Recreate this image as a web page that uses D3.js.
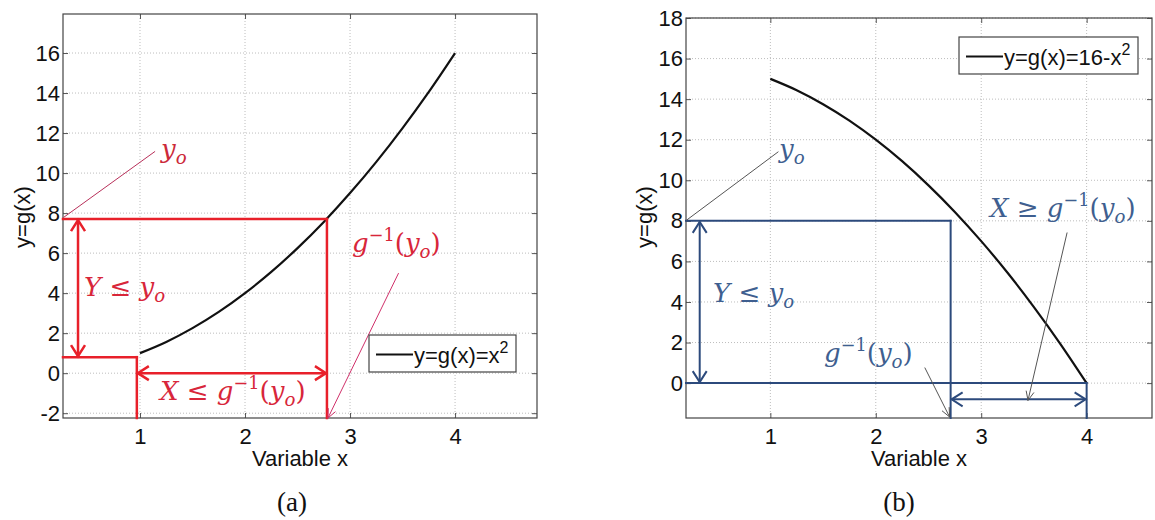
<!DOCTYPE html>
<html><head><meta charset="utf-8">
<script src="https://cdn.jsdelivr.net/npm/d3@7"></script>
<style>body{margin:0;background:#fff}svg{display:block}</style>
</head><body>
<svg id="chart" width="1155" height="520"></svg>
<script>
// ---------- DATA ----------
const xTicks = [1, 2, 3, 4];
const yTicksA = [-2, 0, 2, 4, 6, 8, 10, 12, 14, 16];
const yTicksB = [0, 2, 4, 6, 8, 10, 12, 14, 16, 18];
const curveX = [1, 1.25, 1.5, 1.75, 2, 2.25, 2.5, 2.75, 3, 3.25, 3.5, 3.75, 4];
const curveA = [1, 1.56, 2.25, 3.06, 4, 5.06, 6.25, 7.56, 9, 10.56, 12.25, 14.06, 16];
const curveB = [15, 14.44, 13.75, 12.94, 12, 10.94, 9.75, 8.44, 7, 5.44, 3.75, 1.94, 0];
const legendA = "y=g(x)=x";
const legendB = "y=g(x)=16-x";
const xLabel = "Variable x";
const yLabel = "y=g(x)";
// panel (a) construction values
const aYo = 7.7, aXo = 2.78, aStepY = 0.8, aStepX = 0.97, aArrowX = 0.41, aArrowY = 0;
// panel (b) construction values
const bYo = 8, bXo = 2.71, bEndX = 4, bArrowX = 0.33, bArrowY = -0.8;

const svg = d3.select("#chart");
const SANS = "'Liberation Sans', Arial, sans-serif";
const SERIF = "'DejaVu Serif', serif";

function panel(opt) {
  const x = d3.scaleLinear().domain(opt.xDom).range(opt.xRange);
  const y = d3.scaleLinear().domain(opt.yDom).range(opt.yRange);
  const g = svg.append("g");
  const [x0, x1] = opt.xRange, [y0, y1] = opt.yRange; // y0 bottom, y1 top
  // grid
  g.append("g").selectAll("line").data(opt.xTicks).join("line")
    .attr("x1", d => x(d)).attr("x2", d => x(d)).attr("y1", y0).attr("y2", y1)
    .attr("stroke", "#bdbdbd").attr("stroke-width", 1).attr("stroke-dasharray", "1,2");
  g.append("g").selectAll("line").data(opt.yTicks).join("line")
    .attr("y1", d => y(d)).attr("y2", d => y(d)).attr("x1", x0).attr("x2", x1)
    .attr("stroke", "#bdbdbd").attr("stroke-width", 1).attr("stroke-dasharray", "1,2");
  // axes
  const fmt = d => String(d);
  const ax = d3.axisBottom(x).tickValues(opt.xTicks).tickSize(-5).tickPadding(10).tickFormat(fmt);
  const ay = d3.axisLeft(y).tickValues(opt.yTicks).tickSize(-5).tickPadding(3).tickFormat(fmt);
  const axT = d3.axisTop(x).tickValues(opt.xTicks).tickSize(-5).tickFormat("");
  const ayR = d3.axisRight(y).tickValues(opt.yTicks).tickSize(-5).tickFormat("");
  const style = sel => {
    sel.attr("font-size", null).attr("font-family", null);
    sel.select(".domain").remove();
    sel.selectAll(".tick line").attr("stroke", "#555");
    sel.selectAll(".tick text").style("font-family", SANS).style("font-size", "22px").attr("fill", "#111");
  };
  g.append("g").attr("transform", `translate(0,${y0})`).call(ax).call(style);
  g.append("g").attr("transform", `translate(${x0},0)`).call(ay).call(style);
  g.append("g").attr("transform", `translate(0,${y1})`).call(axT).call(style);
  g.append("g").attr("transform", `translate(${x1},0)`).call(ayR).call(style);
  g.append("rect").attr("x", x0).attr("y", y1).attr("width", x1 - x0).attr("height", y0 - y1)
    .attr("fill", "none").attr("stroke", "#444").attr("stroke-width", 1.2);
  // labels
  g.append("text").attr("x", (x0 + x1) / 2 + opt.xLabelDx).attr("y", 466).attr("text-anchor", "middle")
    .attr("font-family", SANS).attr("font-size", 22).attr("fill", "#111").text(xLabel);
  g.append("text").attr("transform", `translate(${opt.yLabelX},217) rotate(-90)`).attr("text-anchor", "middle")
    .attr("font-family", SANS).attr("font-size", 22).attr("fill", "#111").text(yLabel);
  g.append("text").attr("x", opt.capX).attr("y", 511).attr("text-anchor", "middle")
    .attr("font-family", "'Liberation Serif', 'Times New Roman', serif").attr("font-size", 27).attr("fill", "#111").text(opt.caption);
  return {g, x, y};
}

function line(g, p1, p2, color, w) {
  g.append("line").attr("x1", p1[0]).attr("y1", p1[1]).attr("x2", p2[0]).attr("y2", p2[1])
    .attr("stroke", color).attr("stroke-width", w).attr("stroke-linecap", "square");
}
function head(g, tip, from, color, w, len, half) {
  const dx = tip[0] - from[0], dy = tip[1] - from[1];
  const L = Math.hypot(dx, dy), ux = dx / L, uy = dy / L;
  const bx = tip[0] - ux * len, by = tip[1] - uy * len;
  g.append("path").attr("d", `M${bx - uy * half},${by + ux * half}L${tip[0]},${tip[1]}L${bx + uy * half},${by - ux * half}`)
    .attr("fill", "none").attr("stroke", color).attr("stroke-width", w).attr("stroke-linejoin", "miter");
}
function dblArrow(g, p1, p2, color, w) {
  g.append("line").attr("x1", p1[0]).attr("y1", p1[1]).attr("x2", p2[0]).attr("y2", p2[1])
    .attr("stroke", color).attr("stroke-width", w);
  head(g, p1, p2, color, w, 11, 7);
  head(g, p2, p1, color, w, 11, 7);
}
function pointer(g, p1, p2, color) {
  line(g, p1, p2, color, 1);
  head(g, p2, p1, color, 1, 9, 4);
}
// math text: parts = [text, kind] kind: 'i' italic, 'r' roman, 'sup', 'sub'
function math(g, xp, yp, parts, color, size) {
  const t = g.append("text").attr("x", xp).attr("y", yp).attr("font-family", SERIF)
    .attr("font-size", size).attr("fill", color);
  parts.forEach(([s, k]) => {
    const ts = t.append("tspan").text(s);
    if (k === "i") ts.attr("font-style", "italic");
    if (k === "sup") ts.attr("font-size", size * 0.68).attr("baseline-shift", size * 0.42);
    if (k === "sub") ts.attr("font-size", size * 0.7).attr("font-style", "italic").attr("baseline-shift", -size * 0.22);
  });
  return t;
}
function legend(g, bx, by, bw, bh, label) {
  g.append("rect").attr("x", bx).attr("y", by).attr("width", bw).attr("height", bh)
    .attr("fill", "#fff").attr("stroke", "#444").attr("stroke-width", 1.2);
  g.append("line").attr("x1", bx + 7).attr("x2", bx + 44).attr("y1", by + bh / 2 + 1).attr("y2", by + bh / 2 + 1)
    .attr("stroke", "#111").attr("stroke-width", 2);
  const t = g.append("text").attr("x", bx + 45).attr("y", by + bh / 2 + 9).attr("font-family", SANS)
    .attr("font-size", 22).attr("fill", "#111");
  t.append("tspan").text(label);
  t.append("tspan").text("2").attr("font-size", 16).attr("baseline-shift", 10);
}

// ---------- PANEL A ----------
{
  const P = panel({xDom: [0.267, 4.78], xRange: [63, 537], yDom: [-2.24, 17.95], yRange: [418, 14],
    xTicks, yTicks: yTicksA, yLabelX: 30, xLabelDx: 0, capX: 292, caption: "(a)"});
  const {g, x, y} = P;
  const RED = "#e8202a", left = x.range()[0], bot = y.range()[0];
  g.append("path").datum(curveX.map((d, i) => [d, curveA[i]]))
    .attr("d", d3.line().x(d => x(d[0])).y(d => y(d[1])).curve(d3.curveMonotoneX))
    .attr("fill", "none").attr("stroke", "#111").attr("stroke-width", 2.2);
  line(g, [left, y(aYo)], [x(aXo), y(aYo)], RED, 2.5);
  line(g, [x(aXo), y(aYo)], [x(aXo), bot], RED, 2.5);
  line(g, [left, y(aStepY)], [x(aStepX), y(aStepY)], RED, 2.5);
  line(g, [x(aStepX), y(aStepY)], [x(aStepX), bot], RED, 2.5);
  dblArrow(g, [x(aArrowX), y(aYo) + 1], [x(aArrowX), y(aStepY) - 1], RED, 2.5);
  dblArrow(g, [x(aStepX) + 1, y(aArrowY)], [x(aXo) - 1, y(aArrowY)], RED, 2.5);
  line(g, [left + 1, y(aYo) - 2], [x(1.14), y(11.07)], "#b8305a", 1);
  math(g, 161, 158, [["y", "i"], ["o", "sub"]], "#cc2a3a", 26);
  math(g, 352, 252, [["g", "i"], ["−1", "sup"], ["(", "r"], ["y", "i"], ["o", "sub"], [")", "r"]], "#d8263a", 26);
  pointer(g, [x(3.46), y(4.98)], [x(aXo) + 1, bot], "#d0306a");
  math(g, 84, 296, [["Y", "i"], [" ≤ ", "r"], ["y", "i"], ["o", "sub"]], "#d8263a", 26);
  math(g, 160, 400, [["X", "i"], [" ≤ ", "r"], ["g", "i"], ["−1", "sup"], ["(", "r"], ["y", "i"], ["o", "sub"], [")", "r"]], "#d8263a", 26);
  legend(g, 369, 335, 147, 37, legendA);
}

// ---------- PANEL B ----------
{
  const P = panel({xDom: [0.2, 4.62], xRange: [686, 1152], yDom: [-1.72, 18], yRange: [418, 18],
    xTicks, yTicks: yTicksB, yLabelX: 652, xLabelDx: 0, capX: 899, caption: "(b)"});
  const {g, x, y} = P;
  const BLUE = "#2c4a7c", TXT = "#3f5f90", left = x.range()[0], bot = y.range()[0];
  g.append("path").datum(curveX.map((d, i) => [d, curveB[i]]))
    .attr("d", d3.line().x(d => x(d[0])).y(d => y(d[1])).curve(d3.curveMonotoneX))
    .attr("fill", "none").attr("stroke", "#111").attr("stroke-width", 2.2);
  line(g, [left, y(bYo)], [x(bXo), y(bYo)], BLUE, 2);
  line(g, [x(bXo), y(bYo)], [x(bXo), bot], BLUE, 2);
  line(g, [left, y(0)], [x(bEndX), y(0)], BLUE, 2);
  line(g, [x(bEndX), y(0)], [x(bEndX), bot], BLUE, 2);
  dblArrow(g, [x(bArrowX), y(bYo) + 1], [x(bArrowX), y(0) - 1], BLUE, 2);
  dblArrow(g, [x(bXo) + 1, y(bArrowY)], [x(bEndX) - 1, y(bArrowY)], BLUE, 2);
  line(g, [left + 1, y(bYo) - 1], [778, 152], "#555", 1);
  math(g, 779, 158, [["y", "i"], ["o", "sub"]], TXT, 26);
  math(g, 713, 302, [["Y", "i"], [" ≤ ", "r"], ["y", "i"], ["o", "sub"]], TXT, 26);
  math(g, 824, 362, [["g", "i"], ["−1", "sup"], ["(", "r"], ["y", "i"], ["o", "sub"], [")", "r"]], TXT, 26);
  pointer(g, [925, 368], [x(bXo) - 1, bot - 1], "#555");
  math(g, 990, 217, [["X", "i"], [" ≥ ", "r"], ["g", "i"], ["−1", "sup"], ["(", "r"], ["y", "i"], ["o", "sub"], [")", "r"]], TXT, 26);
  pointer(g, [1067, 233], [1028, y(bArrowY) + 1], "#555");
  legend(g, 959, 37, 179, 37, legendB);
}
</script>
</body></html>
